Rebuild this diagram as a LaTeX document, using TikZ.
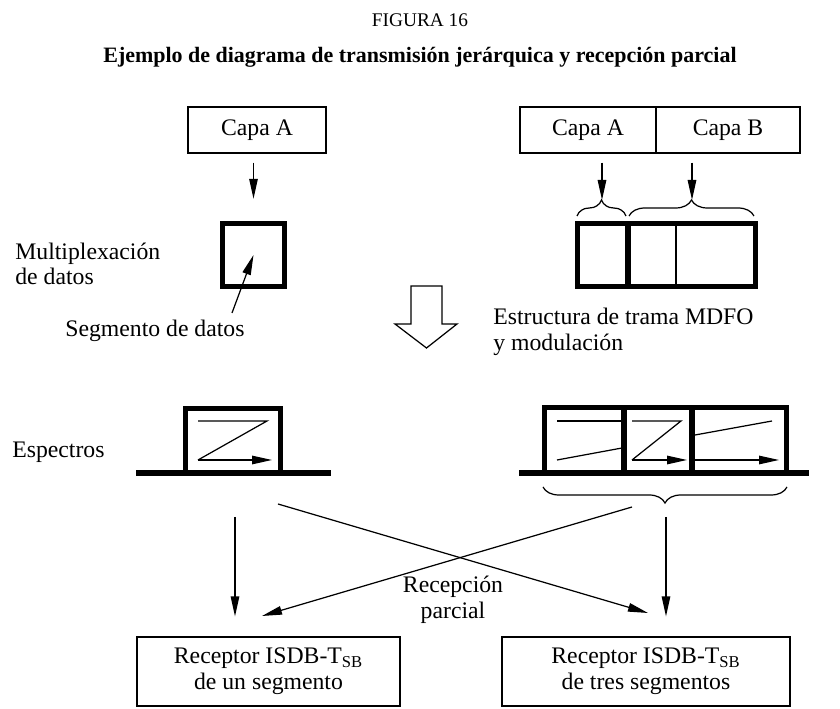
\documentclass[tikz,border=0pt]{standalone}
\usepackage{fontspec}
\setmainfont{Liberation Serif}
\usetikzlibrary{arrows.meta,positioning,decorations.pathreplacing,calc}

\tikzset{
	caja/.style={draw,line width=0.7pt,inner sep=0pt,minimum height=0.92cm},
	texto/.style={inner sep=0pt},
	fino/.style={line width=0.7pt},
	grueso/.style={line width=2.85pt},
	lineabase/.style={line width=3.8pt},
	llave/.style={decorate,decoration={brace,amplitude=0.32cm},line width=0.7pt},
}

\begin{document}
\begin{tikzpicture}[x=0.02cm,y=-0.02cm,font=\fontsize{13.5}{14.6}\selectfont]
	\useasboundingbox (0,0) rectangle (840,709);

	\node (figura) at (420,20) {\fontsize{11}{13}\selectfont FIGURA 16};
	\node (titulo) at (420,57) {\fontsize{12.5}{15}\selectfont\bfseries Ejemplo de diagrama de transmisión jerárquica y recepción parcial};

	\begin{scope}[every node/.style={caja}]
		\node [minimum width=2.76cm] (capaA) at (257,130) {Capa A};
		\node [minimum width=2.72cm] (capaAdos) at (588,130) {Capa A};
		\node [minimum width=2.88cm] (capaB) at (728,130) {Capa B};
		\node [minimum width=5.26cm,minimum height=1.38cm,align=center] (recUno) at (268.5,671.5) {Receptor ISDB-T\textsubscript{SB}\\de un segmento};
		\node [minimum width=5.76cm,minimum height=1.38cm,align=center] (recTres) at (646,671.5) {Receptor ISDB-T\textsubscript{SB}\\de tres segmentos};
	\end{scope}

	\node [draw,grueso,minimum size=1.25cm,inner sep=0pt] (mux) at (253.5,255) {};

	\begin{scope}[every node/.style={texto}]
		\node [align=left,anchor=west] (multiplex) at (15,264) {Multiplexación\\de datos};
		\node [anchor=base west] (segmento) at (65,337) {Segmento de datos};
		\node [align=left,anchor=west] (estructura) at (493,332) {Estructura de trama MDFO\\y modulación};
		\node [anchor=base west] (espectros) at (12,458) {Espectros};
		\node [align=center] (parcial) at (453,600) {Recepción\\parcial};
	\end{scope}

	% estructura de trama
	\draw[grueso] (577.5,223.5) rectangle (755.5,286.5);
	\draw[grueso] (628,223.5) -- (628,286.5);
	\draw[fino] (676,223.5) -- (676,286.5);
	\draw[llave] (577,216) -- (626,216);
	\draw[llave] (629,216) -- (754,216);
	\coordinate (puntaA) at (602,200);
	\coordinate (puntaB) at (692,200);

	% flecha hueca
	\draw[fino] (411,286) -- (442,286) -- (442,324) -- (457,324) -- (426.5,348) -- (395,324) -- (411,324) -- cycle;

	% espectros
	\draw[lineabase] (136,473) -- (331,473);
	\draw[grueso] (185.5,408.5) rectangle (280.5,473);
	\draw[lineabase] (519,473) -- (809,473);
	\draw[grueso] (544.5,407.5) rectangle (786.5,473);
	\draw[grueso] (624,407.5) -- (624,473);
	\draw[grueso] (692,407.5) -- (692,473);
	\draw[llave] (787,487) -- (543,487);

	\coordinate (segPie) at (232,313);
	\coordinate (izqIni) at (235,517);
	\coordinate (derIni) at (666,517);
	\coordinate (cruzA) at (278,504);
	\coordinate (cruzAfin) at (648,613);
	\coordinate (cruzB) at (632,507);
	\coordinate (cruzBfin) at (262,616);

	\begin{scope}[>={Triangle[length=0.4cm,width=0.17cm]},fino]
		\draw[->,shorten <=0.18cm,shorten >=0.45cm] (mux.north |- capaA.south) -- (mux.north);
		\draw[->,shorten <=0.18cm] (capaAdos.south -| puntaA) -- (puntaA);
		\draw[->,shorten <=0.18cm] (capaB.south -| puntaB) -- (puntaB);
		\draw[->] (segPie) -- (mux.center);

		% Z de los espectros
		\draw (198,421) -- (267,421) -- (198,460);
		\draw[->] (198,460) -- (272,460);
		\draw (557,421) -- (622,421);
		\draw (557,460) -- (622,448);
		\draw (632,421) -- (681,421) -- (632,460);
		\draw[->] (632,460) -- (687,460);
		\draw (695,435) -- (772,421);
		\draw[->] (695,460) -- (779,460);

		\draw[->,shorten >=0.4cm] (izqIni) -- (izqIni |- recUno.north);
		\draw[->,shorten >=0.4cm] (derIni) -- (derIni |- recTres.north);
		\draw[->] (cruzA) -- (cruzAfin);
		\draw[->] (cruzB) -- (cruzBfin);
	\end{scope}
\end{tikzpicture}
\end{document}
